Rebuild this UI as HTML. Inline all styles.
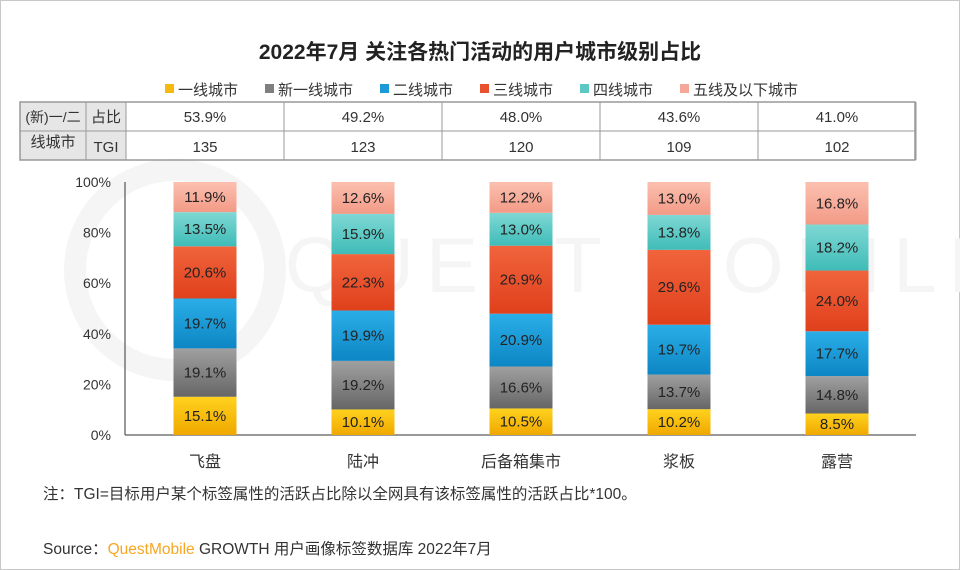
<!DOCTYPE html>
<html><head><meta charset="utf-8"><style>
body{margin:0;width:960px;height:570px;background:#fff;font-family:"Liberation Sans","Noto Sans CJK SC",sans-serif;overflow:hidden}
#frame{position:absolute;left:0;top:0;width:958px;height:568px;border:1px solid #c8c8c8}
.t{position:absolute;white-space:nowrap}
</style></head><body>
<div id="frame"></div>
<div class="t" style="left:0;width:960px;text-align:center;top:36px;font-size:21px;font-weight:bold;color:#222">2022年7月 关注各热门活动的用户城市级别占比</div>
<svg id="chart" width="960" height="570" style="position:absolute;left:0;top:0"></svg>
<div class="t" style="left:43px;top:482px;font-size:15.5px;color:#333">注：TGI=目标用户某个标签属性的活跃占比除以全网具有该标签属性的活跃占比*100。</div>
<div class="t" style="left:43px;top:537px;font-size:15.5px;color:#333">Source：<span style="color:#f5a623">QuestMobile</span> GROWTH 用户画像标签数据库 2022年7月</div>
<script>
const categories=["飞盘","陆冲","后备箱集市","浆板","露营"];
const seriesNames=["一线城市","新一线城市","二线城市","三线城市","四线城市","五线及以下城市"];
const s1=[15.1,10.1,10.5,10.2,8.5];
const s2=[19.1,19.2,16.6,13.7,14.8];
const s3=[19.7,19.9,20.9,19.7,17.7];
const s4=[20.6,22.3,26.9,29.6,24.0];
const s5=[13.5,15.9,13.0,13.8,18.2];
const s6=[11.9,12.6,12.2,13.0,16.8];
const shareRow=["53.9%","49.2%","48.0%","43.6%","41.0%"];
const tgiRow=["135","123","120","109","102"];
const yTicks=[0,20,40,60,80,100];
const series=[s1,s2,s3,s4,s5,s6];
const colors=[["#ffd21e","#f0a800"],["#a0a0a0","#666"],["#2aaee8","#0d86c4"],["#f0643c","#e0401c"],["#7fd8d4","#3fbcb8"],["#fcc0b0","#f29a86"]];
const legendCol=["#f5b90f","#7f7f7f","#1a9ad6","#e8512d","#5cc8c4","#f5a898"];
const svg=document.getElementById('chart');const NS='http://www.w3.org/2000/svg';
function mk(tag,a,p){const e=document.createElementNS(NS,tag);for(const k in a)e.setAttribute(k,a[k]);(p||svg).appendChild(e);return e;}
const y0=435,y1=182,xStart=126,band=158,bw=63;
const y=v=>y0-(v/100)*(y0-y1);
const xc=i=>xStart+band*(i+0.5);
const defs=mk('defs',{});
colors.forEach((c,i)=>{const g=mk('linearGradient',{id:'g'+i,x1:0,y1:0,x2:0,y2:1},defs);mk('stop',{offset:0,'stop-color':c[0]},g);mk('stop',{offset:1,'stop-color':c[1]},g);});
// watermark
const wg=mk('g',{});
mk('circle',{cx:175,cy:270,r:100,fill:'none',stroke:'#f5f5f5','stroke-width':22},wg);
const wm=mk('text',{x:285,y:292,'font-size':78,fill:'#f5f5f5','font-family':'Liberation Sans','letter-spacing':'12'},wg);wm.textContent='QUEST MOBILE';
// legend
let lx=165;
seriesNames.forEach((n,i)=>{
 const r=mk('rect',{x:lx,y:84,width:9,height:9,fill:legendCol[i]});
 
 const t=mk('text',{x:lx+13,y:95,'font-size':15,fill:'#333'});t.textContent=n;
 
 lx+=13+n.length*15+27;
});
// table
const g=mk('g',{});
mk('rect',{x:20,y:102,width:106,height:58,fill:'#e6e6e6'},g);
mk('rect',{x:20,y:102,width:895,height:58,fill:'none',stroke:'#999','stroke-width':1.5},g);
mk('line',{x1:20,y1:131,x2:915,y2:131,stroke:'#999'},g);
mk('line',{x1:86,y1:102,x2:86,y2:160,stroke:'#999'},g);
for(let i=0;i<=categories.length;i++)mk('line',{x1:xStart+band*i,y1:102,x2:xStart+band*i,y2:160,stroke:'#999'},g);
function tx(x,yy,s,txt,anchor,name,fill){const t=mk('text',{x:x,y:yy,'font-size':s,fill:fill||'#333','text-anchor':anchor||'middle'});t.textContent=txt;return t;}
tx(53,122,14,'(新)一/二','middle','row-header');tx(53,147,15,'线城市','middle','row-header');
tx(106,122,15,'占比','middle','row-label-share');tx(106,152,15,'TGI','middle','row-label-tgi');
categories.forEach((c,i)=>{tx(xc(i),122,15,shareRow[i],'middle','share-cell');tx(xc(i),152,15,tgiRow[i],'middle','tgi-cell');});
yTicks.forEach(v=>tx(111,y(v)+5,14,v+'%','end','y-tick-label'));
const ax=mk('line',{x1:125,y1:y1,x2:125,y2:y0,stroke:'#333'});
const bx=mk('line',{x1:125,y1:y0,x2:916,y2:y0,stroke:'#333'});
categories.forEach((c,i)=>{
 const tot=series.reduce((a,s)=>a+s[i],0);let acc=0;
 series.forEach((s,k)=>{
  const v=s[i]/tot*100;const top=y(acc+v),bot=y(acc);
  const r=mk('rect',{x:xc(i)-bw/2,y:top,width:bw,height:bot-top,fill:'url(#g'+k+')'});
  
  tx(xc(i),(top+bot)/2+5,15,s[i].toFixed(1)+'%','middle','bar-value-label','#222');
  acc+=v;
 });
 tx(xc(i),467,16,c,'middle','x-tick-label');
});
</script>
</body></html>
